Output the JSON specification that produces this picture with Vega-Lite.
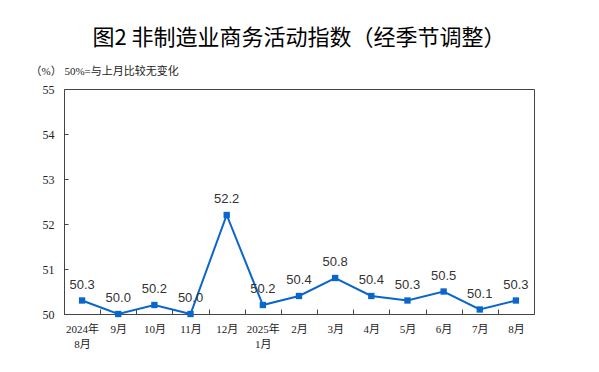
{
  "$schema": "https://vega.github.io/schema/vega-lite/v6.json",
  "width": 470,
  "height": 225,
  "autosize": {"type": "none"},
  "padding": {"left": 64, "top": 89, "right": 65, "bottom": 58},
  "title": {
    "text": "图2 非制造业商务活动指数（经季节调整）",
    "fontSize": 22,
    "font": "Noto Sans CJK SC",
    "fontWeight": "normal",
    "color": "#000000",
    "anchor": "middle",
    "offset": 15
  },
  "config": {
    "view": {"stroke": "#444444", "strokeWidth": 1},
    "axis": {"grid": false}
  },
  "data": {
    "values": [
      {"month": "2024年|8月", "value": 50.3},
      {"month": "9月", "value": 50.0},
      {"month": "10月", "value": 50.2},
      {"month": "11月", "value": 50.0},
      {"month": "12月", "value": 52.2},
      {"month": "2025年|1月", "value": 50.2},
      {"month": "2月", "value": 50.4},
      {"month": "3月", "value": 50.8},
      {"month": "4月", "value": 50.4},
      {"month": "5月", "value": 50.3},
      {"month": "6月", "value": 50.5},
      {"month": "7月", "value": 50.1},
      {"month": "8月 ", "value": 50.3}
    ]
  },
  "encoding": {
    "x": {
      "field": "month",
      "type": "ordinal",
      "sort": null,
      "scale": {"type": "band", "paddingInner": 0, "paddingOuter": 0},
      "axis": {
        "title": null,
        "labelAngle": 0,
        "labelExpr": "split(datum.label, '|')",
        "labelFont": "'Liberation Serif', 'Noto Sans CJK SC'",
        "labelFontSize": 11,
        "labelColor": "#222222",
        "labelLineHeight": 15,
        "labelPadding": 14,
        "tickBand": "extent",
        "tickSize": -5,
        "tickColor": "#444444",
        "domain": false
      }
    },
    "y": {
      "field": "value",
      "type": "quantitative",
      "scale": {"domain": [50, 55], "nice": false, "zero": false},
      "axis": {
        "values": [50, 51, 52, 53, 54, 55],
        "title": "（%） 50%=与上月比较无变化",
        "titleAngle": 0,
        "titleAlign": "left",
        "titleBaseline": "middle",
        "titleX": -34,
        "titleY": -18,
        "titleFont": "'Liberation Serif', 'Noto Sans CJK SC'",
        "titleFontSize": 11,
        "titleFontWeight": "normal",
        "titleColor": "#222222",
        "labelFont": "Liberation Serif",
        "labelFontSize": 12,
        "labelColor": "#222222",
        "labelPadding": 14,
        "tickSize": -4,
        "tickColor": "#444444",
        "domain": false
      }
    }
  },
  "layer": [
    {
      "mark": {"type": "line", "color": "#0A66CC", "strokeWidth": 2}
    },
    {
      "mark": {"type": "point", "shape": "square", "filled": true, "size": 40, "color": "#0A66CC", "opacity": 1}
    },
    {
      "mark": {"type": "text", "dy": -16, "baseline": "middle", "font": "Liberation Sans", "fontSize": 13, "color": "#333333"},
      "encoding": {"text": {"field": "value", "type": "quantitative", "format": ".1f"}}
    }
  ]
}
